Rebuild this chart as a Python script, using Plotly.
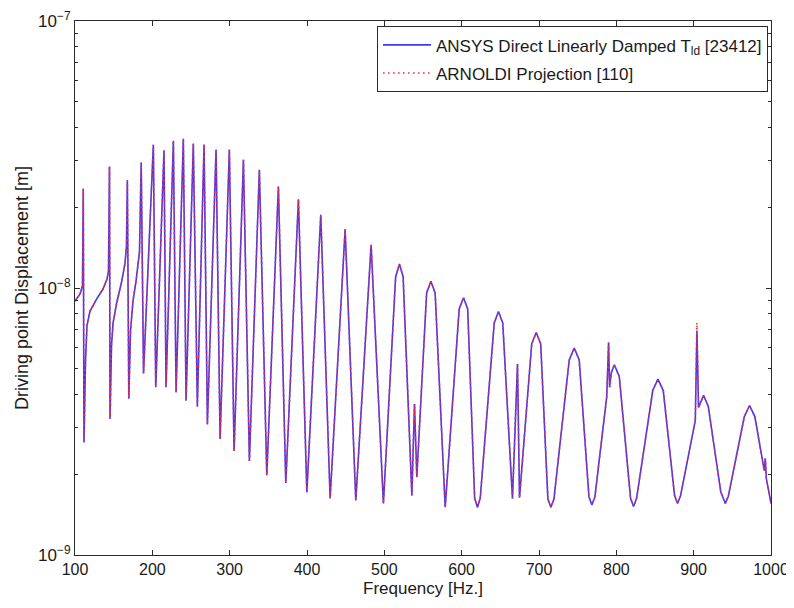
import plotly.graph_objects as go

# Frequency [Hz] and driving point displacement [m]
freq_hz = [
    100.0, 106.5, 109.7, 110.7, 111.6, 113.6, 115.5, 119.4, 128.1, 136.2,
    141.4, 143.3, 144.6, 145.3, 147.2, 149.2, 153.9, 160.4, 164.7, 166.6,
    167.7, 169.6, 171.8, 175.0, 178.9, 183.4, 185.6, 188.6,
    201.3, 204.4, 215.1, 217.7, 227.2, 230.7, 240.1, 243.6, 253.0, 258.2,
    266.9, 271.2, 282.4, 287.6, 299.6, 305.7, 317.8, 325.5, 338.4, 348.0,
    363.0, 372.6, 388.9, 399.8, 417.8, 429.9, 449.3, 463.1, 482.9, 498.8,
    514.6, 519.6, 524.3, 535.6, 539.0, 542.0, 554.7, 560.2, 565.7, 578.7,
    596.8, 602.4, 607.8, 616.8, 620.4, 624.0, 642.1, 647.6, 653.1, 665.7,
    672.2, 674.8, 690.6, 696.4, 702.2, 711.5, 715.4, 719.3, 739.1, 745.6,
    752.0, 764.6, 768.4, 772.3, 787.6, 790.0, 791.3, 793.5, 797.4, 803.8,
    818.4, 822.3, 826.2, 847.1, 853.8, 860.7, 875.3, 879.2, 883.1, 902.1,
    904.2, 906.3, 912.8, 918.9, 935.1, 940.9, 944.8, 965.5, 972.3, 979.1,
    991.3, 992.6, 993.9, 1000.0,
]

ansys_disp = [
    8.94e-9, 9.50e-9, 1.02e-8, 2.36e-8, 2.64e-9, 5.35e-9, 7.22e-9, 8.20e-9, 9.10e-9, 9.91e-9,
    1.08e-8, 1.16e-8, 2.85e-8, 3.24e-9, 6.08e-9, 7.40e-9, 8.79e-9, 1.06e-8, 1.24e-8, 1.44e-8,
    2.53e-8, 3.85e-9, 6.92e-9, 8.94e-9, 1.06e-8, 1.37e-8, 2.95e-8, 4.78e-9,
    3.44e-8, 4.25e-9, 3.27e-8, 4.25e-9, 3.56e-8, 4.07e-9, 3.62e-8, 3.79e-9, 3.48e-8, 3.60e-9,
    3.45e-8, 3.08e-9, 3.30e-8, 2.72e-9, 3.30e-8, 2.45e-9, 3.02e-8, 2.25e-9, 2.77e-8, 1.99e-9,
    2.40e-8, 1.86e-9, 2.15e-8, 1.72e-9, 1.88e-8, 1.63e-9, 1.66e-8, 1.60e-9, 1.45e-8, 1.56e-9,
    1.10e-8, 1.23e-8, 1.10e-8, 1.67e-9, 3.68e-9, 1.96e-9, 9.58e-9, 1.06e-8, 9.58e-9, 1.51e-9,
    8.35e-9, 9.20e-9, 8.35e-9, 1.63e-9, 1.51e-9, 1.63e-9, 7.40e-9, 8.16e-9, 7.40e-9, 1.63e-9,
    5.19e-9, 1.64e-9, 6.18e-9, 6.81e-9, 6.18e-9, 1.62e-9, 1.51e-9, 1.62e-9, 5.38e-9, 5.96e-9,
    5.38e-9, 1.65e-9, 1.54e-9, 1.65e-9, 3.92e-9, 6.25e-9, 4.25e-9, 4.82e-9, 5.16e-9, 4.66e-9,
    1.63e-9, 1.52e-9, 1.63e-9, 4.13e-9, 4.56e-9, 4.13e-9, 1.67e-9, 1.56e-9, 1.67e-9, 3.19e-9,
    6.91e-9, 3.57e-9, 3.96e-9, 3.60e-9, 1.72e-9, 1.56e-9, 1.66e-9, 3.30e-9, 3.63e-9, 3.30e-9,
    2.07e-9, 2.30e-9, 1.94e-9, 1.56e-9,
]

# The Arnoldi projection follows the direct solution, reaching slightly higher on the 904 Hz spike
arnoldi_disp = list(ansys_disp)
arnoldi_disp[freq_hz.index(904.2)] = 7.42e-9

x_ticks = [100, 200, 300, 400, 500, 600, 700, 800, 900, 1000]
y_major = [1e-9, 1e-8, 1e-7]
y_major_text = ["10<sup>−9</sup>", "10<sup>−8</sup>", "10<sup>−7</sup>"]
y_minor = [m * 10.0 ** e for e in (-9, -8) for m in range(2, 10)]

FONT = "Liberation Sans, Arial, Helvetica, sans-serif"
AXC = "#2a2a2a"

fig = go.Figure()
fig.add_trace(go.Scatter(
    x=freq_hz, y=ansys_disp, mode="lines",
    name="ANSYS Direct Linearly Damped T<sub>ld</sub> [23412]",
    line=dict(color="#3a3aff", width=1.6),
    legendgroup="a",
))
fig.add_trace(go.Scatter(
    x=freq_hz, y=arnoldi_disp, mode="lines",
    name="ARNOLDI Projection [110]",
    line=dict(color="#ff2a2a", width=1.6, dash="1.6px,3.4px"),
    legendgroup="b",
))

# the page places the figure 8 px in from the top-left corner of the window
fig.update_layout(
    width=786, height=600,
    margin=dict(l=67, r=23, t=13, b=53),
    paper_bgcolor="white", plot_bgcolor="white",
    font=dict(family=FONT, size=16, color="#1a1a1a"),
    showlegend=True,
    legend=dict(
        x=0.9957, xanchor="right", y=0.990, yanchor="top",
        bgcolor="white", bordercolor=AXC, borderwidth=1,
        font=dict(family=FONT, size=17, color="#1a1a1a"),
        traceorder="grouped", tracegroupgap=3, itemwidth=48,
    ),
    xaxis=dict(
        range=[100, 1000], tickmode="array", tickvals=x_ticks,
        ticks="inside", ticklen=5, tickcolor=AXC, tickwidth=1,
        showline=True, linecolor=AXC, linewidth=1, mirror="allticks",
        showgrid=False, zeroline=False, automargin=False,
        tickfont=dict(size=16),
        title=dict(text="Frequency [Hz.]", font=dict(size=17), standoff=4),
    ),
    yaxis=dict(
        type="log", range=[-9, -7], tickmode="array",
        tickvals=y_major, ticktext=y_major_text,
        ticks="inside", ticklen=5, tickcolor=AXC, tickwidth=1,
        minor=dict(tickmode="array", tickvals=y_minor, ticks="inside",
                   ticklen=3, tickcolor=AXC, showgrid=False),
        showline=True, linecolor=AXC, linewidth=1, mirror="allticks",
        showgrid=False, zeroline=False, automargin=False,
        tickfont=dict(size=17),
        title=dict(text="Driving point Displacement [m]", font=dict(size=18), standoff=4),
    ),
)

fig.write_html("out.html")
